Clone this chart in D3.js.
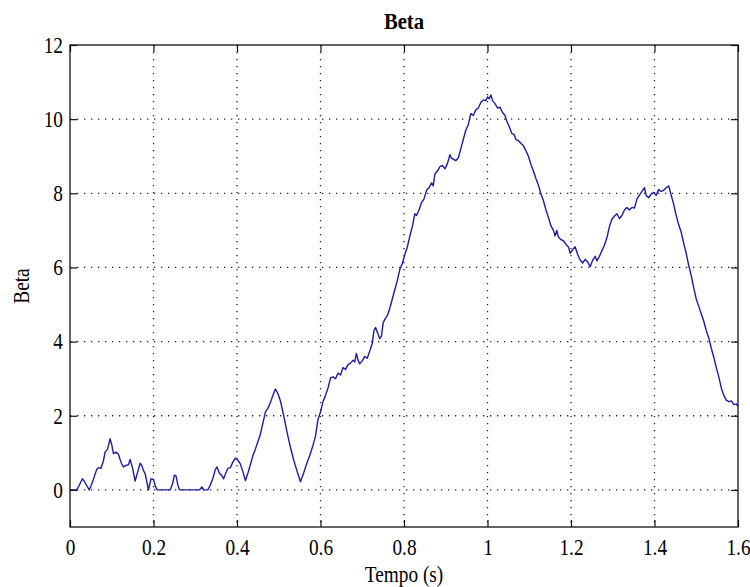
<!DOCTYPE html>
<html>
<head>
<meta charset="utf-8">
<script src="https://cdn.jsdelivr.net/npm/d3@7"></script>
<style>
  html, body { margin: 0; padding: 0; background: #ffffff; }
  svg { display: block; }
  text { font-family: "Liberation Serif", "DejaVu Serif", serif; fill: #000; }
</style>
</head>
<body>
<svg id="chart" width="750" height="587"></svg>
<script>
// Beta over time (s)
const time = [
  0, 0.010, 0.016, 0.022, 0.026, 0.030, 0.034, 0.040, 0.046, 0.050, 0.056, 0.060, 0.064, 0.068, 0.074, 0.080, 0.084, 0.090, 0.096, 0.100,
  0.104, 0.110, 0.116, 0.120, 0.124, 0.128, 0.134, 0.140, 0.144, 0.150, 0.156, 0.162, 0.168, 0.172, 0.176, 0.180, 0.184, 0.188, 0.194, 0.200,
  0.205, 0.209, 0.220, 0.240, 0.246, 0.250, 0.254, 0.258, 0.262, 0.290, 0.310, 0.316, 0.320, 0.330,
  0.335, 0.342, 0.348, 0.352, 0.358, 0.364, 0.368, 0.372, 0.378, 0.384, 0.390, 0.396, 0.402, 0.408, 0.414, 0.420, 0.426, 0.432, 0.438, 0.444,
  0.450, 0.456, 0.462, 0.468, 0.474, 0.480, 0.486, 0.492, 0.498, 0.504, 0.512, 0.520, 0.528, 0.536, 0.544, 0.552, 0.558, 0.566, 0.574, 0.582,
  0.588, 0.594, 0.600, 0.606, 0.612, 0.618, 0.624, 0.630, 0.636, 0.642, 0.648, 0.654, 0.660, 0.666, 0.672, 0.678, 0.682, 0.686, 0.690, 0.694,
  0.700, 0.706, 0.712, 0.718, 0.724, 0.728, 0.732, 0.738, 0.742, 0.746, 0.750, 0.754, 0.760, 0.766, 0.772, 0.778, 0.784, 0.790, 0.796, 0.802,
  0.808, 0.814, 0.820, 0.826, 0.830, 0.836, 0.842, 0.848, 0.854, 0.860, 0.866, 0.870, 0.874, 0.880, 0.886, 0.892, 0.898, 0.904, 0.910, 0.914,
  0.918, 0.924, 0.930, 0.936, 0.942, 0.948, 0.954, 0.960, 0.966, 0.972, 0.978, 0.984, 0.990, 0.996, 1.000, 1.004, 1.008, 1.012, 1.018, 1.024,
  1.030, 1.036, 1.042, 1.046, 1.052, 1.058, 1.064, 1.068, 1.074, 1.080, 1.086, 1.092, 1.098, 1.104, 1.110, 1.116, 1.122, 1.128, 1.134, 1.140,
  1.146, 1.152, 1.158, 1.162, 1.166, 1.170, 1.176, 1.182, 1.188, 1.194, 1.198, 1.204, 1.210, 1.216, 1.222, 1.228, 1.234, 1.240, 1.246, 1.252,
  1.258, 1.262, 1.268, 1.274, 1.280, 1.286, 1.292, 1.298, 1.304, 1.310, 1.316, 1.322, 1.328, 1.334, 1.340, 1.346, 1.352, 1.358, 1.364, 1.370,
  1.376, 1.380, 1.386, 1.392, 1.398, 1.404, 1.410, 1.416, 1.422, 1.428, 1.434, 1.440, 1.446, 1.452, 1.458, 1.464, 1.470, 1.476, 1.482, 1.488,
  1.494, 1.500, 1.506, 1.512, 1.518, 1.524, 1.530, 1.536, 1.542, 1.548, 1.554, 1.560, 1.566, 1.572, 1.578, 1.584, 1.590, 1.596, 1.600
];
const beta = [
  0, 0, 0, 0.12, 0.22, 0.30, 0.24, 0.12, 0, 0.10, 0.28, 0.42, 0.55, 0.60, 0.58, 0.78, 1.02, 1.10, 1.38, 1.22,
  0.98, 1.02, 0.96, 0.82, 0.70, 0.62, 0.66, 0.68, 0.82, 0.58, 0.24, 0.48, 0.72, 0.66, 0.52, 0.44, 0.22, 0, 0.30, 0.28,
  0.08, 0, 0, 0, 0.18, 0.40, 0.38, 0.15, 0, 0, 0, 0.08, 0, 0,
  0.10, 0.30, 0.55, 0.62, 0.45, 0.38, 0.30, 0.42, 0.58, 0.60, 0.75, 0.86, 0.80, 0.70, 0.50, 0.25, 0.45, 0.68, 0.92, 1.10,
  1.30, 1.50, 1.80, 2.10, 2.20, 2.36, 2.55, 2.72, 2.60, 2.40, 2.00, 1.55, 1.15, 0.80, 0.50, 0.22, 0.40, 0.68, 0.92, 1.20,
  1.45, 1.90, 2.10, 2.38, 2.55, 2.75, 3.02, 3.05, 3.00, 3.15, 3.10, 3.30, 3.25, 3.38, 3.42, 3.50, 3.45, 3.68, 3.50, 3.40,
  3.48, 3.60, 3.55, 3.75, 3.95, 4.30, 4.38, 4.20, 4.08, 4.15, 4.50, 4.60, 4.70, 4.90, 5.15, 5.40, 5.65, 5.95, 6.10, 6.35,
  6.55, 6.85, 7.10, 7.45, 7.40, 7.55, 7.75, 7.85, 8.08, 8.15, 8.28, 8.20, 8.52, 8.60, 8.72, 8.75, 8.66, 8.80, 9.04, 8.95,
  8.92, 8.88, 8.95, 9.20, 9.45, 9.70, 9.85, 10.15, 10.10, 10.25, 10.30, 10.45, 10.52, 10.50, 10.60, 10.55, 10.65, 10.50, 10.42, 10.30,
  10.32, 10.18, 10.10, 9.95, 9.80, 9.62, 9.58, 9.45, 9.42, 9.35, 9.28, 9.15, 9.00, 8.78, 8.60, 8.40, 8.22, 7.98, 7.80, 7.55,
  7.35, 7.12, 7.00, 6.85, 7.00, 6.82, 6.75, 6.72, 6.62, 6.55, 6.38, 6.48, 6.56, 6.35, 6.20, 6.12, 6.22, 6.15, 6.02, 6.20,
  6.30, 6.18, 6.30, 6.45, 6.60, 6.80, 7.10, 7.30, 7.38, 7.45, 7.32, 7.40, 7.55, 7.62, 7.55, 7.62, 7.60, 7.85, 7.95, 8.05,
  8.15, 7.95, 7.88, 7.98, 8.02, 7.95, 8.10, 8.05, 8.08, 8.15, 8.20, 7.95, 7.70, 7.40, 7.15, 6.95, 6.65, 6.38, 6.05, 5.78,
  5.45, 5.15, 4.95, 4.75, 4.55, 4.30, 4.10, 3.82, 3.58, 3.30, 3.05, 2.75, 2.55, 2.42, 2.38, 2.40, 2.30, 2.32, 2.25
];
const xTicks = [0, 0.2, 0.4, 0.6, 0.8, 1, 1.2, 1.4, 1.6];
const xTickLabels = ["0", "0.2", "0.4", "0.6", "0.8", "1", "1.2", "1.4", "1.6"];
const yTicks = [0, 2, 4, 6, 8, 10, 12];
const yTickLabels = ["0", "2", "4", "6", "8", "10", "12"];
const xDomain = [0, 1.6];
const yDomain = [-1, 12];

(function draw() {
  const svg = d3.select("#chart");
  const pLeft = 70, pRight = 738, pTop = 45, pBottom = 527;
  const tickLen = 7;
  const squeeze = 0.84;   // narrow, tall serif lettering
  const fontSize = 23;

  const x = d3.scaleLinear().domain(xDomain).range([pLeft, pRight]);
  const y = d3.scaleLinear().domain(yDomain).range([pBottom, pTop]);

  // dotted grid
  const grid = svg.append("g").attr("stroke", "#222").attr("stroke-width", 1.3)
    .attr("stroke-dasharray", "1.3,5.7");
  grid.selectAll("line.vx").data(xTicks.slice(1, -1)).join("line")
    .attr("class", "vx")
    .attr("x1", d => x(d)).attr("x2", d => x(d))
    .attr("y1", pTop).attr("y2", pBottom);
  grid.selectAll("line.hy").data(yTicks.slice(0, -1)).join("line")
    .attr("class", "hy")
    .attr("x1", pLeft).attr("x2", pRight)
    .attr("y1", d => y(d)).attr("y2", d => y(d));

  // data line
  const line = d3.line().x((d, i) => x(time[i])).y(d => y(d));
  svg.append("path")
    .datum(beta)
    .attr("d", line)
    .attr("fill", "none")
    .attr("stroke", "#1c1ca6")
    .attr("stroke-width", 1.4)
    .attr("stroke-linejoin", "round");

  // axes with inward ticks on all four sides
  const fmtX = (d, i) => xTickLabels[i];
  const fmtY = (d, i) => yTickLabels[i];
  const axB = svg.append("g").attr("transform", `translate(0,${pBottom})`)
    .call(d3.axisBottom(x).tickValues(xTicks).tickFormat(fmtX).tickSizeInner(-tickLen).tickSizeOuter(0).tickPadding(12));
  const axT = svg.append("g").attr("transform", `translate(0,${pTop})`)
    .call(d3.axisTop(x).tickValues(xTicks).tickFormat("").tickSizeInner(-tickLen).tickSizeOuter(0));
  const axL = svg.append("g").attr("transform", `translate(${pLeft},0)`)
    .call(d3.axisLeft(y).tickValues(yTicks).tickFormat(fmtY).tickSizeInner(-tickLen).tickSizeOuter(0).tickPadding(7));
  const axR = svg.append("g").attr("transform", `translate(${pRight},0)`)
    .call(d3.axisRight(y).tickValues(yTicks).tickFormat("").tickSizeInner(-tickLen).tickSizeOuter(0));

  [axB, axT, axL, axR].forEach(a => {
    a.select(".domain").remove();
    a.selectAll(".tick line").attr("stroke", "#111").attr("stroke-width", 1.2);
    a.selectAll("text")
      .attr("font-family", "Liberation Serif, serif")
      .attr("font-size", fontSize)
      .attr("fill", "#000")
      .each(function () {
        const t = d3.select(this);
        const tx = +t.attr("x") || 0;
        t.attr("x", tx / squeeze).attr("transform", `scale(${squeeze},1)`);
      });
  });

  // box
  svg.append("rect")
    .attr("x", pLeft).attr("y", pTop)
    .attr("width", pRight - pLeft).attr("height", pBottom - pTop)
    .attr("fill", "none").attr("stroke", "#111").attr("stroke-width", 1.3);

  // title and axis labels
  const cx = (pLeft + pRight) / 2;
  svg.append("text")
    .attr("transform", `translate(${cx},29) scale(0.9,1)`)
    .attr("text-anchor", "middle")
    .attr("font-size", 23).attr("font-weight", "bold")
    .text("Beta");
  svg.append("text")
    .attr("transform", `translate(${cx},582) scale(${squeeze},1)`)
    .attr("text-anchor", "middle")
    .attr("font-size", fontSize)
    .text("Tempo (s)");
  svg.append("text")
    .attr("transform", `translate(29,${(pTop + pBottom) / 2}) rotate(-90) scale(${squeeze},1)`)
    .attr("text-anchor", "middle")
    .attr("font-size", fontSize)
    .text("Beta");
})();
</script>
</body>
</html>
